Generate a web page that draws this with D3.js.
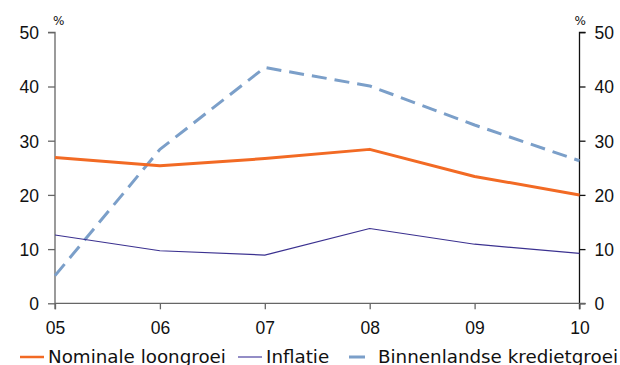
<!DOCTYPE html>
<html>
<head>
<meta charset="utf-8">
<script src="https://cdn.jsdelivr.net/npm/d3@7"></script>
<style>
  html, body { margin: 0; padding: 0; background: #fff; }
  svg { display: block; font-family: "DejaVu Sans", Verdana, sans-serif; }
</style>
</head>
<body>
<svg id="chart" width="620" height="365"></svg>
<script>
// Years on the x axis
const years = ["05", "06", "07", "08", "09", "10"];
// Series values (%)
const loongroei = [26.9, 25.4, 26.7, 28.4, 23.4, 20.0];
const inflatie = [12.6, 9.7, 8.9, 13.8, 10.9, 9.2];
const kredietgroei = [5.1, 28.4, 43.5, 40.1, 32.9, 26.3];
// Axis ticks
const yTicks = [0, 10, 20, 30, 40, 50];
const seriesNames = ["Nominale loongroei", "Inflatie", "Binnenlandse kredietgroei"];

const svg = d3.select("#chart");
const plotLeft = 55, plotRight = 579.5, plotTop = 32.3, plotBottom = 303.3;

const x = d3.scalePoint().domain(years).range([plotLeft, plotRight]);
const y = d3.scaleLinear().domain([0, 50]).range([plotBottom, plotTop]);

// Left axis
const gL = svg.append("g").attr("transform", `translate(${plotLeft},0)`)
  .call(d3.axisLeft(y).tickValues(yTicks).tickSize(7).tickPadding(9));
gL.select(".domain").attr("d", `M-7,${plotTop}H0V${plotBottom + 6}`);
gL.selectAll("line, path").attr("stroke", "#666").attr("stroke-width", 1.3);
gL.selectAll("text").attr("font-size", 17.5).attr("fill", "#111").attr("dy", "0.36em");

// Right axis
const gR = svg.append("g").attr("transform", `translate(${plotRight},0)`)
  .call(d3.axisRight(y).tickValues(yTicks).tickSize(6).tickPadding(9));
gR.select(".domain").attr("d", `M6,${plotTop}H0V${plotBottom + 6}`);
gR.selectAll("line, path").attr("stroke", "#111").attr("stroke-width", 1.3);
gR.selectAll("text").attr("font-size", 17.5).attr("fill", "#111").attr("dy", "0.36em");

// Bottom axis
const gB = svg.append("g").attr("transform", `translate(0,${plotBottom})`)
  .call(d3.axisBottom(x).tickSize(6).tickPadding(12));
gB.select(".domain").attr("d", `M${plotLeft},0H${plotRight + 6}`);
gB.selectAll("line, path").attr("stroke", "#666").attr("stroke-width", 1.3);
gB.selectAll("text").attr("font-size", 17.5).attr("fill", "#111");

// Unit labels
svg.append("text").attr("x", 53).attr("y", 25).attr("font-size", 12).attr("fill", "#111").text("%");
svg.append("text").attr("x", 586).attr("y", 25).attr("font-size", 12).attr("fill", "#111")
  .attr("text-anchor", "end").text("%");

// Lines
const line = d3.line().x((d, i) => x(years[i])).y(d => y(d));
const series = [
  { values: kredietgroei, color: "#7b9fc9", width: 3, dash: "15,8" },
  { values: inflatie, color: "#3b3190", width: 1.2, dash: null },
  { values: loongroei, color: "#f26a24", width: 3, dash: null }
];
series.forEach(s => {
  svg.append("path").datum(s.values)
    .attr("d", line)
    .attr("fill", "none")
    .attr("stroke", s.color)
    .attr("stroke-width", s.width)
    .attr("stroke-dasharray", s.dash)
    .attr("stroke-linejoin", "round");
});

// Legend
const legendItems = [
  { name: seriesNames[0], color: "#f26a24", width: 2.5, x1: 20, x2: 44, tx: 48 },
  { name: seriesNames[1], color: "#6f67b3", width: 1.5, x1: 238, x2: 262, tx: 266 },
  { name: seriesNames[2], color: "#7b9fc9", width: 3, x1: 349, x2: 365, tx: 378 }
];
const lg = svg.append("g");
legendItems.forEach(it => {
  lg.append("line").attr("x1", it.x1).attr("x2", it.x2).attr("y1", 357).attr("y2", 357)
    .attr("stroke", it.color).attr("stroke-width", it.width);
  lg.append("text").attr("x", it.tx).attr("y", 363).attr("font-size", 18.3)
    .attr("fill", "#111").text(it.name);
});
</script>
</body>
</html>
